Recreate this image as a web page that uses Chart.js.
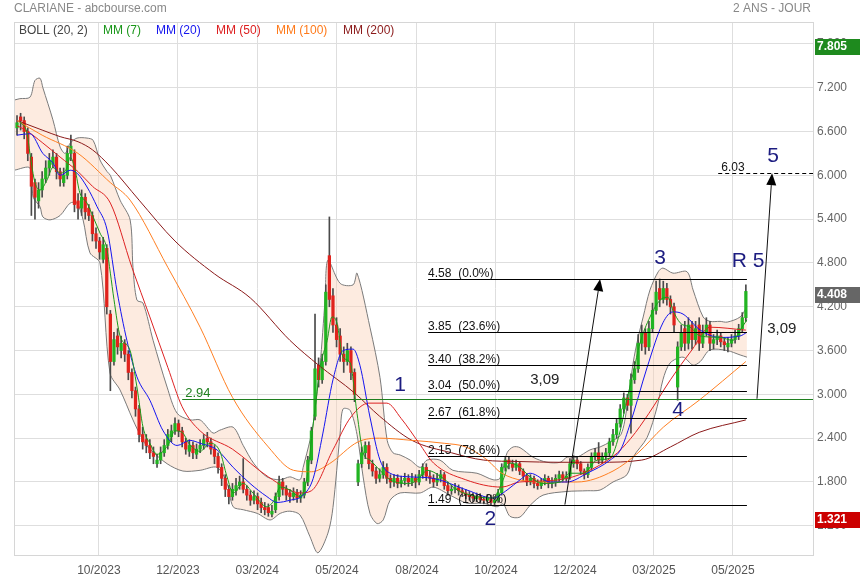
<!DOCTYPE html>
<html>
<head>
<meta charset="utf-8">
<title>CLARIANE - abcbourse.com</title>
<script src="https://cdn.jsdelivr.net/npm/chart.js@4.4.1/dist/chart.umd.min.js"></script>
<style>
  html, body { margin: 0; padding: 0; background: #fff; }
  #wrap { width: 860px; height: 580px; position: relative; }
</style>
</head>
<body>
<div id="wrap"><canvas id="chart" width="860" height="580"></canvas></div>
<script>
// candles, one every 2 sessions
const opens = [
  6.65,6.8,6.75,6.6,6.25,5.9,5.65,5.8,5.95,6.1,
  6.15,6.25,6.05,5.9,6.0,6.3,6.3,5.65,5.55,5.7,
  5.55,5.45,5.2,5.1,4.85,5.0,4.1,3.45,3.8,3.6,
  3.7,3.55,3.3,3.05,2.8,2.45,2.38,2.3,2.2,2.05,
  2.1,2.2,2.3,2.42,2.5,2.6,2.5,2.35,2.22,2.3,
  2.18,2.25,2.3,2.4,2.35,2.25,2.15,2.0,1.85,1.7,
  1.6,1.68,1.75,1.8,1.7,1.62,1.55,1.6,1.52,1.45,
  1.45,1.36,1.42,1.6,1.8,1.7,1.65,1.6,1.65,1.58,
  1.62,1.8,2.1,2.7,3.4,3.2,3.45,4.9,4.35,3.95,
  3.8,3.55,3.45,3.6,3.3,1.8,2.05,2.2,2.3,2.05,
  1.95,1.85,1.9,2.0,1.85,1.8,1.85,1.78,1.82,1.85,
  1.8,1.85,1.8,1.9,2.0,1.88,1.85,1.8,1.85,1.9,
  1.75,1.68,1.7,1.72,1.68,1.65,1.62,1.6,1.57,1.6,
  1.56,1.55,1.58,1.52,1.55,1.65,2.0,2.1,2.05,2.0,
  2.05,1.95,1.88,1.8,1.85,1.78,1.75,1.8,1.85,1.78,
  1.8,1.85,1.9,1.85,1.88,2.05,2.1,2.05,1.95,1.9,
  2.0,2.15,2.2,2.1,2.15,2.2,2.35,2.45,2.6,2.8,
  2.95,2.85,3.2,3.35,3.7,3.85,3.65,3.9,4.15,4.45,
  4.3,4.45,4.3,4.2,3.1,3.65,3.9,3.7,3.95,3.75,
  3.95,3.7,3.85,3.95,3.7,3.75,3.8,3.72,3.65,3.7,
  3.75,3.8,3.9,4.05
];
const highs = [
  6.82,6.85,6.8,6.65,6.3,5.95,5.9,6.05,6.2,6.3,
  6.35,6.3,6.1,6.1,6.4,6.55,6.35,5.75,5.8,5.75,
  5.6,5.5,5.28,5.15,5.15,5.05,4.15,3.85,3.9,3.8,
  3.75,3.6,3.35,3.1,2.85,2.55,2.45,2.38,2.28,2.18,
  2.28,2.38,2.52,2.58,2.68,2.65,2.55,2.4,2.38,2.35,
  2.32,2.38,2.45,2.48,2.4,2.3,2.2,2.05,1.9,1.75,
  1.78,1.85,1.88,2.12,1.75,1.68,1.68,1.65,1.58,1.52,
  1.5,1.48,1.65,1.88,1.85,1.75,1.7,1.72,1.7,1.68,
  1.85,2.15,2.55,4.1,3.5,3.55,4.5,5.43,4.45,4.05,
  3.9,3.65,3.7,3.65,3.35,2.1,2.28,2.35,2.35,2.1,
  2.0,1.98,2.08,2.05,1.9,1.9,1.9,1.88,1.92,1.9,
  1.92,1.9,1.96,2.05,2.05,1.95,1.9,1.92,1.96,1.93,
  1.8,1.76,1.78,1.76,1.72,1.7,1.67,1.65,1.65,1.64,
  1.6,1.63,1.62,1.6,1.7,2.05,2.15,2.14,2.1,2.1,
  2.08,1.98,1.92,1.9,1.88,1.83,1.85,1.9,1.88,1.86,
  1.9,1.95,1.94,1.94,2.12,2.16,2.14,2.08,1.98,2.05,
  2.2,2.26,2.34,2.2,2.26,2.4,2.52,2.66,2.86,3.02,
  3.0,3.28,3.45,3.82,3.95,3.9,4.0,4.25,4.55,4.58,
  4.55,4.52,4.35,4.25,3.72,3.95,4.0,4.05,4.0,4.0,
  4.05,3.95,4.05,4.0,3.82,3.88,3.85,3.78,3.78,3.82,
  3.88,3.96,4.12,4.5
];
const lows = [
  6.55,6.62,6.5,6.2,5.45,5.4,5.55,5.7,5.9,6.0,
  6.1,5.95,5.85,5.85,5.95,6.2,5.5,5.4,5.45,5.4,
  5.38,5.1,5.0,4.85,4.8,4.1,3.05,3.4,3.55,3.5,
  3.45,3.2,2.95,2.7,2.35,2.25,2.2,2.12,2.05,2.0,
  2.05,2.15,2.25,2.35,2.45,2.42,2.28,2.18,2.15,2.12,
  2.12,2.2,2.25,2.28,2.18,2.05,1.92,1.75,1.6,1.5,
  1.55,1.62,1.7,1.65,1.55,1.48,1.5,1.42,1.38,1.35,
  1.33,1.321,1.38,1.55,1.62,1.55,1.52,1.55,1.52,1.52,
  1.58,1.75,2.05,2.65,3.1,3.15,3.4,4.2,3.85,3.65,
  3.45,3.3,3.4,3.2,2.9,1.75,2.0,2.12,1.98,1.88,
  1.78,1.8,1.85,1.78,1.72,1.74,1.72,1.73,1.76,1.74,
  1.75,1.72,1.76,1.85,1.82,1.78,1.73,1.75,1.8,1.7,
  1.62,1.63,1.65,1.62,1.6,1.57,1.55,1.53,1.53,1.51,
  1.5,1.5,1.49,1.49,1.52,1.62,1.95,1.98,1.95,1.96,
  1.9,1.82,1.75,1.76,1.72,1.7,1.71,1.76,1.72,1.72,
  1.74,1.8,1.8,1.8,1.84,2.0,1.98,1.9,1.84,1.86,
  1.96,2.1,2.05,2.05,2.1,2.15,2.3,2.4,2.55,2.74,
  2.78,2.47,3.15,3.3,3.6,3.55,3.6,3.85,4.1,4.2,
  4.25,4.22,4.1,3.85,2.92,3.6,3.6,3.62,3.62,3.68,
  3.6,3.64,3.8,3.6,3.62,3.68,3.65,3.6,3.58,3.65,
  3.7,3.75,3.85,4.0
];
const closes = [
  6.72,6.75,6.6,6.3,5.85,5.7,5.8,5.95,6.1,6.2,
  6.25,6.05,5.95,6.0,6.3,6.4,5.6,5.55,5.7,5.5,
  5.45,5.2,5.1,4.95,5.05,4.2,3.45,3.75,3.65,3.7,
  3.55,3.3,3.05,2.8,2.45,2.35,2.3,2.2,2.15,2.1,
  2.2,2.3,2.45,2.5,2.6,2.5,2.35,2.25,2.3,2.2,
  2.25,2.3,2.38,2.35,2.25,2.15,2.0,1.85,1.7,1.6,
  1.7,1.75,1.8,1.7,1.62,1.55,1.6,1.5,1.45,1.42,
  1.38,1.4,1.6,1.8,1.7,1.62,1.6,1.65,1.58,1.62,
  1.8,2.1,2.5,3.35,3.2,3.45,4.4,4.3,3.95,3.75,
  3.55,3.45,3.6,3.3,3.0,2.05,2.2,2.3,2.05,1.95,
  1.85,1.9,2.0,1.85,1.8,1.85,1.78,1.82,1.85,1.8,
  1.85,1.8,1.9,2.0,1.88,1.85,1.8,1.85,1.9,1.75,
  1.68,1.7,1.72,1.68,1.65,1.62,1.6,1.58,1.6,1.56,
  1.55,1.58,1.52,1.55,1.65,2.0,2.1,2.05,2.0,2.05,
  1.95,1.88,1.8,1.85,1.78,1.75,1.8,1.85,1.78,1.8,
  1.85,1.9,1.85,1.88,2.05,2.1,2.05,1.95,1.9,2.0,
  2.15,2.2,2.1,2.15,2.2,2.35,2.45,2.6,2.8,2.95,
  2.85,3.2,3.35,3.7,3.85,3.65,3.9,4.15,4.4,4.3,
  4.45,4.3,4.2,3.95,3.65,3.85,3.7,3.95,3.75,3.9,
  3.7,3.85,3.95,3.7,3.75,3.8,3.72,3.68,3.7,3.75,
  3.8,3.9,4.05,4.41
];

// indicator curves as [candle index, value]
const ma7 = [[0.8,6.73],[2.8,6.58],[3.6,6.3],[5,5.9],[6.4,5.8],[8.4,5.94],[10,6.11],[12,6.03],[13.9,6.1],[14.8,6.25],[16.2,6.07],[17.5,5.76],[19.5,5.62],[21.2,5.43],[23.1,5.21],[25,5.0],[26,4.66],[27,4.3],[28.7,3.8],[31.5,3.6],[33.4,3.1],[35.1,2.55],[37,2.33],[39,2.18],[42,2.3],[44,2.5],[46,2.48],[48,2.32],[51,2.22],[53.8,2.33],[56.5,2.22],[58.5,1.87],[60.2,1.65],[63,1.78],[65.7,1.65],[69.6,1.46],[71.6,1.55],[73.3,1.73],[76,1.69],[78.8,1.6],[80.8,1.87],[82.2,2.47],[83.3,2.92],[84.4,3.37],[86.4,3.74],[87.7,4.06],[89.1,3.98],[90.8,3.51],[92.8,3.43],[94.7,2.74],[96.4,2.2],[98.3,2.1],[101.1,1.96],[103.9,1.83],[109.5,1.78],[112.3,1.87],[114.2,1.96],[118.7,1.85],[122.6,1.69],[128.1,1.6],[132.6,1.58],[135.4,1.83],[137.3,2.06],[140.1,2.0],[142.9,1.87],[146.5,1.78],[151.3,1.8],[154,1.92],[157.7,1.92],[161.6,2.1],[165.2,2.13],[168,2.5],[169.5,2.85],[171.6,3.29],[173.5,3.7],[176.3,4.06],[179.1,4.29],[181.3,4.33],[182.7,4.15],[184.7,3.98],[187.5,3.92],[190.3,3.8],[195.8,3.78],[199.4,3.74],[201.4,3.88],[203.3,4.02]];
const ma20 = [[0,6.55],[3.6,6.57],[7.2,6.3],[10,6.17],[12,6.0],[14.8,6.07],[16.7,6.03],[19.5,5.84],[22.3,5.57],[25.1,5.25],[27.9,4.4],[30.6,3.74],[33.4,3.24],[37,2.92],[40.7,2.5],[44.6,2.3],[48.2,2.37],[51,2.33],[55.7,2.24],[60.2,2.0],[64.9,1.78],[69.6,1.6],[72.4,1.52],[76,1.55],[79.7,1.62],[82.5,1.85],[85.2,2.47],[88,3.2],[90.8,3.6],[93.6,3.62],[95.5,3.4],[98.3,2.69],[101.1,2.1],[103.9,1.92],[109.5,1.87],[115.9,1.85],[125.3,1.69],[132.6,1.58],[136.5,1.69],[140.1,1.83],[142.9,1.92],[148.5,1.8],[153.2,1.8],[158.8,1.92],[165.2,2.1],[168.2,2.25],[170.8,2.6],[175.5,3.37],[179.9,3.98],[182.7,4.13],[185.5,4.1],[190.3,3.88],[195.8,3.78],[201.4,3.8],[203.3,3.85]];
const ma50 = [[0,6.68],[3,6.6],[7,6.45],[12,6.25],[17,6.05],[21,5.85],[26,5.62],[32,4.74],[37,4.06],[42,3.37],[46,2.83],[51,2.5],[60,2.25],[70,1.87],[79,1.65],[82,1.68],[88,2.24],[93,2.69],[98,2.88],[103,2.88],[107,2.67],[112,2.33],[116,2.06],[125,1.83],[135,1.73],[140,1.8],[151,1.83],[166,2.15],[171,2.4],[176,2.74],[182,3.2],[188,3.61],[193,3.92],[203,3.88]];
const ma100 = [[0,6.75],[7,6.55],[17,6.3],[26,5.9],[31.5,5.66],[42,4.74],[51,3.92],[60,2.96],[70,2.28],[77,1.96],[82,1.94],[87,2.05],[95,2.35],[101,2.4],[110,2.37],[119,2.33],[125,2.28],[131,2.1],[135,1.92],[147,1.8],[156,1.8],[166,1.95],[173,2.2],[180,2.55],[190,2.92],[203,3.45]];
const ma200 = [[0,6.75],[7,6.62],[12,6.53],[17,6.46],[21,6.35],[26,6.12],[34,5.66],[44,5.1],[55,4.65],[65,4.32],[76,3.74],[84,3.4],[94,3.02],[101,2.7],[110,2.37],[121,2.2],[130,2.1],[140,2.08],[151,2.07],[162,2.07],[174,2.1],[182,2.28],[190,2.48],[203,2.65]];
const bollUp = [[-0.8,7.03],[0.8,7.05],[3.6,7.07],[5,7.3],[6.4,7.33],[7.2,7.2],[10,6.76],[12,6.39],[13.4,6.3],[14.8,6.44],[16.7,6.51],[19.5,6.51],[21.2,6.48],[23.1,6.21],[25.1,6.05],[26,6.0],[28.7,5.66],[31.5,5.39],[32.3,4.74],[33.4,4.29],[35.1,4.25],[37.9,3.74],[41.8,3.1],[44.6,2.74],[48.2,2.65],[51,2.65],[54.6,2.47],[56.5,2.51],[60.2,2.55],[63,2.3],[66,2.05],[69.6,1.87],[73.3,1.83],[76,1.87],[78.8,1.83],[79.7,2.0],[81.6,2.37],[82.5,2.6],[84.4,3.4],[85.8,4.3],[86.6,4.84],[90,4.52],[93.6,4.5],[94.7,4.66],[98.3,3.92],[101.1,3.23],[103.1,2.37],[104.7,2.2],[106.7,2.17],[109.5,2.1],[112.3,2.0],[114.2,2.1],[117.8,2.1],[121.4,1.96],[128.1,1.92],[132.6,1.83],[134.5,1.85],[136.5,2.2],[138.2,2.28],[140.1,2.27],[143.7,2.14],[147.6,2.07],[151.3,2.07],[153.2,2.14],[156,2.14],[159.6,2.24],[162.4,2.28],[165.2,2.35],[168.2,2.45],[169.9,2.83],[171.6,3.43],[173,3.78],[174.4,4.06],[176.3,4.43],[178.6,4.68],[179.9,4.73],[182.7,4.66],[186.6,4.68],[188.3,4.43],[191.1,4.06],[193,4.0],[195.8,4.0],[197.8,3.99],[201.4,4.06],[203.3,4.2]];
const bollLow = [[-0.8,6.07],[3.6,6.1],[4.5,5.7],[6.4,5.57],[7.2,5.43],[9.2,5.39],[12,5.45],[14.8,5.62],[16.7,5.62],[18.4,5.39],[20.3,4.94],[23.1,4.8],[25.9,3.29],[28.7,3.06],[32.3,2.65],[35.1,2.37],[37,2.25],[41.8,2.05],[46.2,1.95],[51,1.96],[55.7,2.0],[58.5,1.78],[60.2,1.46],[63,1.42],[66.9,1.37],[70.5,1.28],[73.3,1.37],[76,1.4],[78.8,1.35],[81.6,1.05],[83.8,0.83],[86.6,1.1],[88,1.45],[90,2.47],[90.8,2.8],[92.8,2.78],[94.7,2.45],[96.4,1.87],[98.3,1.37],[100.3,1.23],[102,1.28],[103.9,1.55],[106.7,1.65],[112.3,1.65],[115.9,1.73],[120.6,1.62],[125.3,1.51],[129.8,1.51],[133.7,1.46],[135.4,1.5],[137.3,1.33],[140.1,1.32],[142.9,1.48],[146.5,1.62],[153.2,1.67],[158.8,1.68],[162.4,1.69],[166,1.8],[169.9,1.9],[171.6,2.14],[175.5,2.41],[178.3,2.83],[179.9,3.2],[181.9,3.43],[185.5,3.51],[188.3,3.4],[190.3,3.45],[193,3.61],[197.8,3.6],[201.4,3.54],[203.3,3.51]];

// axis
const tickPos = [22.8, 44.8, 66.9, 89.1, 111.4, 133.4, 155.4, 177.4, 199.4];
const tickLabels = ['10/2023','12/2023','03/2024','05/2024','08/2024','10/2024','12/2024','03/2025','05/2025'];
const yTicks = [1.2, 1.8, 2.4, 3.0, 3.6, 4.2, 4.8, 5.4, 6.0, 6.6, 7.2, 7.8];

// drawn levels / notes
const fibLevels = [4.58, 3.85, 3.40, 3.04, 2.67, 2.15, 1.49];
const fibPct = ['0.0%', '23.6%', '38.2%', '50.0%', '61.8%', '78.6%', '100.0%'];
const fibFrom = 114.5, fibTo = 203.3;
const supportLevel = 2.94, supportFrom = 46;
const targetLevel = 6.03, targetFrom = 195.3;
const arrows = [[152.6, 1.49, 162.4, 4.58], [206.1, 2.94, 210.3, 6.03]];
const arrowNotes = [['3,09', 147, 3.2], ['3,09', 213, 3.9]];
const waveLabels = [['1', 106.7, 3.13], ['2', 131.8, 1.29], ['3', 179.1, 4.87], ['4', 184.1, 2.78], ['5', 210.6, 6.26], ['R 5', 203.6, 4.83]];
const badges = [[7.805, '#1e8a1e'], [4.408, '#666666'], [1.321, '#cc0000']];

const FONT = '"Liberation Sans", Arial, sans-serif';
const GREEN = '#22b422', RED = '#e0221c';
const NAVY = '#1c1c80';

function pts(arr) { return arr.map(p => ({x: p[0], y: p[1]})); }

const wickData = lows.map((l, i) => ({x: i, y: [l, highs[i]]}));
const bodyData = opens.map((o, i) => ({x: i, y: [o, closes[i]]}));
const bodyColors = opens.map((o, i) => closes[i] >= o ? GREEN : RED);

function maLine(data, color, order) {
  return {
    type: 'line', data: pts(data), borderColor: color, borderWidth: 1,
    pointRadius: 0, fill: false, cubicInterpolationMode: 'monotone', order: order
  };
}

const overlay = {
  id: 'overlay',
  afterDatasetsDraw(chart) {
    const {ctx, chartArea: a, scales: {x, y}} = chart;
    ctx.save();
    ctx.beginPath();
    ctx.rect(a.left, a.top, a.right - a.left, a.bottom - a.top);
    ctx.clip();

    // support line 2.94
    ctx.strokeStyle = '#1f7f1f';
    ctx.lineWidth = 1;
    let ys = Math.round(y.getPixelForValue(supportLevel)) + 0.5;
    ctx.beginPath(); ctx.moveTo(x.getPixelForValue(supportFrom), ys); ctx.lineTo(a.right, ys); ctx.stroke();
    ctx.fillStyle = '#1f7f1f';
    ctx.font = '13px ' + FONT;
    ctx.textBaseline = 'alphabetic';
    ctx.fillText(supportLevel.toFixed(2), x.getPixelForValue(supportFrom) + 3, ys - 3);

    // fibonacci retracement
    ctx.strokeStyle = '#000';
    ctx.fillStyle = '#111';
    ctx.font = '12px ' + FONT;
    fibLevels.forEach((lv, k) => {
      const yy = Math.round(y.getPixelForValue(lv)) + 0.5;
      ctx.beginPath(); ctx.moveTo(x.getPixelForValue(fibFrom), yy); ctx.lineTo(x.getPixelForValue(fibTo), yy); ctx.stroke();
      ctx.fillText(lv.toFixed(2) + '  (' + fibPct[k] + ')', x.getPixelForValue(fibFrom), yy - 3);
    });

    // target 6.03 dashed
    const yt = Math.round(y.getPixelForValue(targetLevel)) + 0.5;
    ctx.setLineDash([4, 3]);
    ctx.beginPath(); ctx.moveTo(x.getPixelForValue(targetFrom), yt); ctx.lineTo(a.right, yt); ctx.stroke();
    ctx.setLineDash([]);
    ctx.fillText(targetLevel.toFixed(2), x.getPixelForValue(targetFrom) + 3, yt - 3);

    // arrows
    arrows.forEach(ar => {
      const x0 = x.getPixelForValue(ar[0]), y0 = y.getPixelForValue(ar[1]);
      const x1 = x.getPixelForValue(ar[2]), y1 = y.getPixelForValue(ar[3]);
      const ang = Math.atan2(y1 - y0, x1 - x0);
      const hl = 12, hw = 5;
      const bx = x1 - hl * Math.cos(ang), by = y1 - hl * Math.sin(ang);
      ctx.strokeStyle = '#111';
      ctx.beginPath(); ctx.moveTo(x0, y0); ctx.lineTo(bx, by); ctx.stroke();
      ctx.fillStyle = '#000';
      ctx.beginPath();
      ctx.moveTo(x1, y1);
      ctx.lineTo(bx + hw * Math.sin(ang), by - hw * Math.cos(ang));
      ctx.lineTo(bx - hw * Math.sin(ang), by + hw * Math.cos(ang));
      ctx.closePath(); ctx.fill();
    });
    ctx.fillStyle = '#222';
    ctx.font = '15px ' + FONT;
    ctx.textAlign = 'center';
    ctx.textBaseline = 'middle';
    arrowNotes.forEach(n => ctx.fillText(n[0], x.getPixelForValue(n[1]), y.getPixelForValue(n[2])));

    // wave counts
    ctx.fillStyle = NAVY;
    ctx.font = '21px ' + FONT;
    waveLabels.forEach(w => ctx.fillText(w[0], x.getPixelForValue(w[1]), y.getPixelForValue(w[2])));
    ctx.restore();
  },
  afterDraw(chart) {
    const {ctx, chartArea: a, scales: {y}} = chart;
    ctx.save();
    // frame
    ctx.strokeStyle = '#d6d6d6';
    ctx.lineWidth = 1;
    ctx.strokeRect(a.left + 0.5, a.top + 0.5, a.right - a.left, a.bottom - a.top);

    // header
    ctx.font = '12px ' + FONT;
    ctx.fillStyle = '#888';
    ctx.textBaseline = 'middle';
    ctx.textAlign = 'left';
    ctx.fillText('CLARIANE - abcbourse.com', 14, 9);
    ctx.textAlign = 'right';
    ctx.fillText('2 ANS - JOUR', 811, 9);

    // legend
    ctx.textAlign = 'left';
    const leg = [['BOLL (20, 2)', '#444', 19], ['MM (7)', '#1a961a', 103], ['MM (20)', '#1515ee', 156],
                 ['MM (50)', '#dd2020', 216], ['MM (100)', '#ff7a1a', 276], ['MM (200)', '#8b1a1a', 343]];
    leg.forEach(l => { ctx.fillStyle = l[1]; ctx.fillText(l[0], l[2], 31); });

    // value badges
    ctx.font = 'bold 12px ' + FONT;
    badges.forEach(b => {
      const yy = y.getPixelForValue(b[0]) + 3;
      ctx.fillStyle = b[1];
      ctx.fillRect(a.right + 2, Math.round(yy - 8), 860 - a.right - 2, 16);
      ctx.fillStyle = '#fff';
      ctx.fillText(b[0].toFixed(3), a.right + 4, yy);
    });
    ctx.restore();
  }
};

Chart.defaults.font.family = FONT;

new Chart(document.getElementById('chart'), {
  type: 'bar',
  data: {
    datasets: [
      {
        type: 'line', data: pts(bollUp), borderColor: '#7a7a7a', borderWidth: 1, pointRadius: 0,
        tension: 0.3, fill: '+1', backgroundColor: 'rgba(250, 208, 182, 0.42)', order: 30
      },
      {
        type: 'line', data: pts(bollLow), borderColor: '#7a7a7a', borderWidth: 1, pointRadius: 0,
        tension: 0.3, fill: false, order: 29
      },
      maLine(ma200, '#8b1a1a', 8),
      maLine(ma100, '#ff7f22', 7),
      maLine(ma50, '#dd2222', 6),
      {
        type: 'bar', data: wickData, backgroundColor: '#4a4a4a', barThickness: 1,
        grouped: false, order: 20
      },
      {
        type: 'bar', data: bodyData, backgroundColor: bodyColors, barThickness: 2.6,
        minBarLength: 1, grouped: false, order: 19
      },
      maLine(ma20, '#1414f0', 5),
      maLine(ma7, '#1b9a1b', 4)
    ]
  },
  options: {
    responsive: false,
    animation: false,
    events: [],
    layout: { padding: { left: 14, top: 22, right: 0, bottom: 0 } },
    plugins: { legend: { display: false }, tooltip: { enabled: false } },
    scales: {
      x: {
        type: 'linear', min: -0.84, max: 221.7, offset: false,
        afterBuildTicks: s => { s.ticks = tickPos.map(v => ({value: v})); },
        afterFit: s => { s.height = 25; },
        grid: { color: '#dedede', drawTicks: false, offset: false },
        border: { color: '#d6d6d6' },
        ticks: {
          autoSkip: false, maxRotation: 0, padding: 8, color: '#555',
          font: { family: '"Liberation Sans Narrow", "Arial Narrow", ' + FONT, size: 12 },
          callback: (v, i) => tickLabels[i]
        }
      },
      y: {
        type: 'linear', position: 'right', min: 0.8, max: 8.1,
        afterBuildTicks: s => { s.ticks = yTicks.map(v => ({value: v})); },
        afterFit: s => { s.width = 47; },
        grid: { color: '#dedede', drawTicks: false },
        border: { color: '#d6d6d6' },
        ticks: { padding: 4, color: '#666', font: { size: 12 }, callback: v => v.toFixed(3) }
      }
    }
  },
  plugins: [overlay]
});
</script>
</body>
</html>
